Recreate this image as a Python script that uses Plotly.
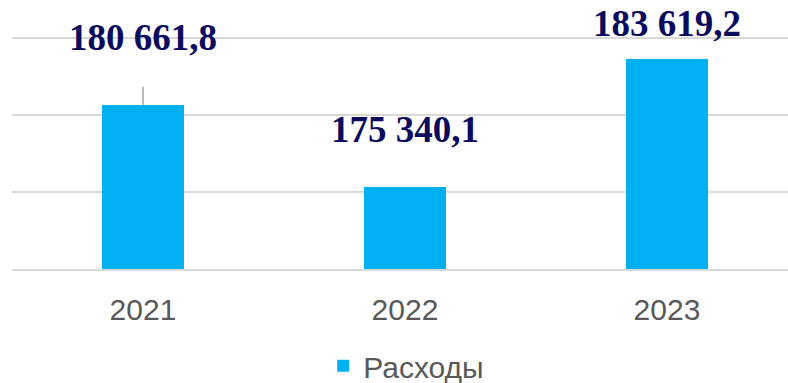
import plotly.graph_objects as go

# Annual expenditure (thousand)
years = ["2021", "2022", "2023"]
expenses = [180661.8, 175340.1, 183619.2]
series_name = "Расходы"

# Vertical offset (px) of each value label above its bar
label_shift = [64, 54, 33]

BAR_COLOR = "#00b0f0"
LABEL_COLOR = "#0c0c5e"
TEXT_GREY = "#595959"
GRID = "#d9d9d9"

px_per_unit = 77 / 5000
ymin = 170000
ytop = ymin + 269 / px_per_unit


def fmt(v):
    whole, frac = f"{v:.1f}".split(".")
    return f"{int(whole):,}".replace(",", " ") + "," + frac


fig = go.Figure(
    go.Bar(
        x=years,
        y=expenses,
        name=series_name,
        marker=dict(color=BAR_COLOR, line=dict(width=0)),
        width=0.313,
        showlegend=True,
    )
)

# value labels, placed a fixed pixel distance above each bar
fig.add_trace(
    go.Scatter(
        x=years,
        y=[v + s / px_per_unit for v, s in zip(expenses, label_shift)],
        mode="text",
        text=["<b>" + fmt(v) + "</b>" for v in expenses],
        textposition="middle center",
        textfont=dict(family="Liberation Serif, Times New Roman, serif", size=37, color=LABEL_COLOR),
        cliponaxis=False,
        showlegend=False,
        hoverinfo="skip",
    )
)

# leader line from the moved 2021 label down to its bar
fig.add_shape(
    type="line", xref="x", yref="y", x0=0, x1=0,
    y0=expenses[0], y1=expenses[0] + 18 / px_per_unit,
    line=dict(color="#a6a6a6", width=1.5),
)

fig.update_layout(
    width=788, height=383,
    margin=dict(l=12, r=0, t=0, b=114, autoexpand=False),
    paper_bgcolor="white", plot_bgcolor="white",
    bargap=0,
    xaxis=dict(
        type="category", range=[-0.5, 2.462],
        showgrid=False, showline=True, linecolor=GRID, linewidth=1.5,
        ticks="", tickfont=dict(family="Liberation Sans, Arial, sans-serif", size=30, color=TEXT_GREY),
        ticklabelstandoff=13,
    ),
    yaxis=dict(
        range=[ymin, ytop], tickvals=[170000, 175000, 180000, 185000],
        showticklabels=False, showgrid=True, gridcolor=GRID, gridwidth=1.5,
        zeroline=False, showline=False,
    ),
    legend=dict(
        orientation="h", x=0.508, xanchor="center", y=-0.36, yanchor="middle",
        font=dict(family="Liberation Sans, Arial, sans-serif", size=30, color=TEXT_GREY),
        itemwidth=30,
    ),
)

fig.write_html("out.html")
